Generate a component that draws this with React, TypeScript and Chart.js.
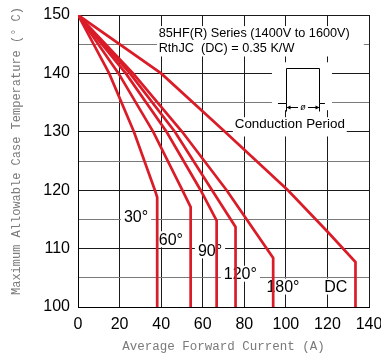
import React, { useEffect, useRef } from 'react';
import { Chart, registerables } from 'chart.js';

Chart.register(...registerables);

// ---- data ----
const curveNames = ['30°', '60°', '90°', '120°', '180°', 'DC'];

const current30 = [0, 15.0, 26.9, 37.0, 38.1, 38.1];
const temp30 = [150, 140, 130, 120, 118.8, 100];

const current60 = [0, 19.5, 36.2, 50.2, 54.2, 54.2];
const temp60 = [150, 140, 130, 120, 117.1, 100];

const current90 = [0, 23.0, 42.6, 59.0, 66.7, 66.7];
const temp90 = [150, 140, 130, 120, 114.8, 100];

const current120 = [0, 25.0, 46.6, 64.5, 75.8, 75.8];
const temp120 = [150, 140, 130, 120, 113.7, 100];

const current180 = [0, 26.5, 50.1, 71.5, 93.9, 93.9];
const temp180 = [150, 140, 130, 120, 108.4, 100];

const currentDC = [0, 40.0, 70.7, 101.0, 120.3, 133.5, 133.5];
const tempDC = [150, 140, 130, 120, 112.8, 107.7, 100];

const seriesX = [current30, current60, current90, current120, current180, currentDC];
const seriesY = [temp30, temp60, temp90, temp120, temp180, tempDC];

const xMin = 0;
const xMax = 140;
const xStep = 20;
const yMin = 100;
const yMax = 150;
const yStep = 5;
const yLabelStep = 10;

const titleLine1 = '85HF(R) Series (1400V to 1600V)';
const titleLine2 = 'RthJC  (DC) = 0.35 K/W';
const conductionText = 'Conduction Period';
const phiText = 'ø';
const xTitle = 'Average Forward Current (A)';
const yTitle = 'Maximum Allowable Case Temperature (° C)';

// ---- styling ----
const RED = 'rgb(218,28,40)';
const SANS = '"Liberation Sans", Arial, sans-serif';
const MONO = '"Liberation Mono", "Courier New", monospace';

// label anchor positions in data coordinates
const curveLabelPos = [
  [27.9, 115.5],
  [44.7, 111.6],
  [63.5, 109.7],
  [78.1, 105.7],
  [98.6, 103.5],
  [124.0, 103.5],
];

const annotationPlugin = {
  id: 'annotations',
  beforeDatasetsDraw(chart: any) {
    const { ctx } = chart;
    const xs = chart.scales.x;
    const ys = chart.scales.y;
    const px = (v: number) => xs.getPixelForValue(v);
    const py = (v: number) => ys.getPixelForValue(v);
    ctx.save();
    ctx.fillStyle = '#fff';
    const clearRect = (x0: number, x1: number, t0: number, t1: number) => {
      const a = px(x0), b = px(x1), c = py(t0), d = py(t1);
      ctx.fillRect(a, c, b - a, d - c);
    };
    // series text block
    clearRect(38, 137.5, 148.1, 142.9);
    // conduction symbol area
    clearRect(93.3, 122.2, 141.9, 133.7);
    // "Conduction Period"
    clearRect(74.5, 129.3, 132.5, 129.2);

    ctx.fillStyle = '#000';
    ctx.textBaseline = 'middle';
    ctx.textAlign = 'left';
    ctx.font = `12.7px ${SANS}`;
    ctx.fillText(titleLine1, px(38.8), py(146.9));
    ctx.fillText(titleLine2, px(38.8), py(144.2));

    ctx.textAlign = 'center';
    ctx.font = `13.4px ${SANS}`;
    ctx.fillText(conductionText, px(101.9), py(131.3));

    // conduction waveform
    const base = Math.round(py(135)) + 0.5;
    const topY = Math.round(py(140.9)) + 0.5;
    const xl = Math.round(px(100.3)) + 0.5;
    const xr = Math.round(px(115.9)) + 0.5;
    const sl = px(96.2);
    const sr = px(118.8);
    ctx.strokeStyle = '#000';
    ctx.lineWidth = 1;
    ctx.beginPath();
    ctx.moveTo(sl, base);
    ctx.lineTo(xl, base);
    ctx.lineTo(xl, topY);
    ctx.lineTo(xr, topY);
    ctx.lineTo(xr, base);
    ctx.lineTo(sr, base);
    ctx.stroke();
    // dimension arrows
    const dimY = base + 4;
    ctx.beginPath();
    ctx.moveTo(xl, base);
    ctx.lineTo(xl, base + 8);
    ctx.moveTo(xr, base);
    ctx.lineTo(xr, base + 8);
    const mid = (xl + xr) / 2;
    ctx.moveTo(xl, dimY);
    ctx.lineTo(mid - 5, dimY);
    ctx.moveTo(mid + 5, dimY);
    ctx.lineTo(xr, dimY);
    ctx.stroke();
    ctx.beginPath();
    ctx.moveTo(xl, dimY);
    ctx.lineTo(xl + 4, dimY - 2);
    ctx.lineTo(xl + 4, dimY + 2);
    ctx.closePath();
    ctx.moveTo(xr, dimY);
    ctx.lineTo(xr - 4, dimY - 2);
    ctx.lineTo(xr - 4, dimY + 2);
    ctx.closePath();
    ctx.fill();
    ctx.font = `italic 9px ${SANS}`;
    ctx.textAlign = 'center';
    ctx.fillText(phiText, mid, dimY);

    // curve labels with white backgrounds
    ctx.font = `16px ${SANS}`;
    curveNames.forEach((name, i) => {
      const [vx, vy] = curveLabelPos[i];
      const cx = px(vx);
      const cy = py(vy);
      const w = ctx.measureText(name).width;
      ctx.fillStyle = '#fff';
      ctx.fillRect(cx - w / 2 - 3, cy - 8, w + 6, 16);
      ctx.fillStyle = '#000';
      ctx.fillText(name, cx, cy + 1);
    });

    // y axis title
    ctx.save();
    ctx.translate(17, 151);
    ctx.rotate(-Math.PI / 2);
    ctx.font = `12px ${MONO}`;
    ctx.fillStyle = '#7a7a7a';
    ctx.textAlign = 'center';
    ctx.fillText(yTitle, 0, 0);
    ctx.restore();

    ctx.restore();
  },
};

export default function App() {
  const canvasRef = useRef<HTMLCanvasElement | null>(null);

  useEffect(() => {
    const canvas = canvasRef.current;
    if (!canvas) return;
    const datasets = seriesX.map((xsArr, i) => ({
      label: curveNames[i],
      data: xsArr.map((v, j) => ({ x: v, y: seriesY[i][j] })),
      borderColor: RED,
      backgroundColor: RED,
      borderWidth: 2.7,
      pointRadius: 0,
      tension: 0,
      fill: false,
    }));
    const chart = new Chart(canvas, {
      type: 'line',
      data: { datasets },
      options: {
        animation: false,
        responsive: false,
        devicePixelRatio: 1,
        layout: { padding: { left: 0, top: 15, right: 12, bottom: 0 } },
        plugins: {
          legend: { display: false },
          tooltip: { enabled: false },
        },
        scales: {
          x: {
            type: 'linear',
            min: xMin,
            max: xMax,
            ticks: {
              stepSize: xStep,
              color: '#000',
              font: { family: SANS, size: 16 },
              padding: 8,
              maxRotation: 0,
              autoSkip: false,
            },
            grid: { color: '#1a1a1a', drawTicks: false, lineWidth: 1 },
            border: { color: '#000', width: 1 },
            title: {
              display: true,
              text: xTitle,
              color: '#7a7a7a',
              font: { family: MONO, size: 12.5 },
              padding: { top: 0, bottom: 7 },
            },
            afterFit: (s: any) => {
              s.height = 54;
              s.paddingLeft = 0;
              s.paddingRight = 0;
            },
          },
          y: {
            type: 'linear',
            min: yMin,
            max: yMax,
            ticks: {
              stepSize: yStep,
              color: '#000',
              font: { family: SANS, size: 16 },
              padding: 8,
              autoSkip: false,
              callback: (v: any) => (Number(v) % yLabelStep === 0 ? String(v) : ''),
            },
            grid: {
              drawTicks: false,
              lineWidth: 1,
              color: (c: any) => (c.tick && c.tick.value % yLabelStep === 0 ? '#1a1a1a' : '#7a7a7a'),
            },
            border: { color: '#000', width: 1 },
            afterFit: (s: any) => {
              s.width = 78;
              s.paddingTop = 0;
              s.paddingBottom = 0;
            },
          },
        },
      },
      plugins: [annotationPlugin],
    } as any);
    return () => chart.destroy();
  }, []);

  return (
    <div style={{ position: 'absolute', left: 0, top: 0, width: 381, height: 361, background: '#fff' }}>
      <canvas ref={canvasRef} width={381} height={361} style={{ display: 'block' }} />
    </div>
  );
}
